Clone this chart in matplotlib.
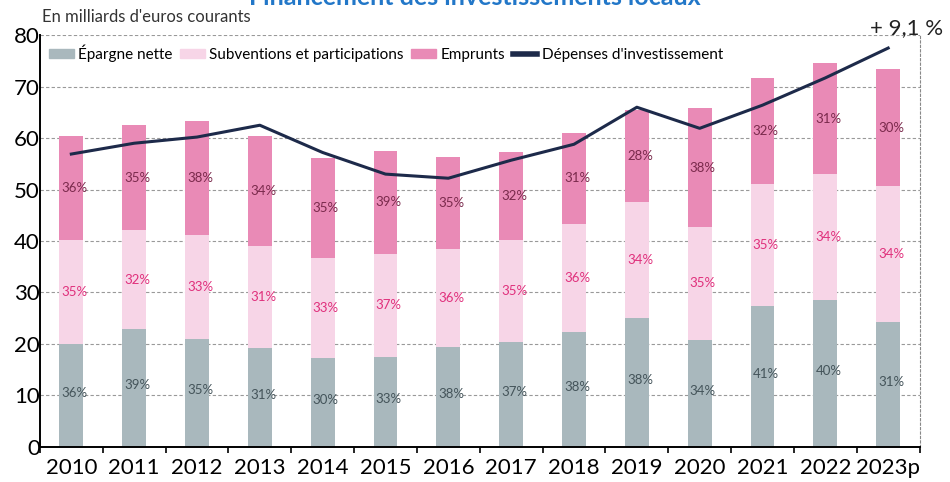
import numpy as np
import matplotlib
matplotlib.use("Agg")
import matplotlib.pyplot as plt
from matplotlib.lines import Line2D
from matplotlib.patches import Patch

plt.rcParams['font.family'] = ['Lato', 'DejaVu Sans']

# data (milliards d'euros)
years = ["2010", "2011", "2012", "2013", "2014", "2015", "2016",
         "2017", "2018", "2019", "2020", "2021", "2022", "2023p"]
epargne = [20.0, 22.9, 21.0, 19.2, 17.3, 17.5, 19.4, 20.4, 22.3, 25.0, 20.8, 27.4, 28.5, 24.3]
subv_top = [40.2, 42.1, 41.2, 39.0, 36.7, 37.5, 38.4, 40.2, 43.4, 47.6, 42.7, 51.1, 53.0, 50.7]
total = [60.4, 62.5, 63.3, 60.4, 56.1, 57.5, 56.3, 57.3, 61.0, 65.4, 65.8, 71.7, 74.6, 73.4]
depenses = [56.9, 59.0, 60.2, 62.5, 57.2, 53.0, 52.2, 55.7, 58.8, 66.0, 61.9, 66.4, 71.7, 77.5]

pct_epargne = [36, 39, 35, 31, 30, 33, 38, 37, 38, 38, 34, 41, 40, 31]
pct_subv = [35, 32, 33, 31, 33, 37, 36, 35, 36, 34, 35, 35, 34, 34]
pct_empr = [36, 35, 38, 34, 35, 39, 35, 32, 31, 28, 38, 32, 31, 30]

subventions = [t - e for t, e in zip(subv_top, epargne)]
emprunts = [t - s for t, s in zip(total, subv_top)]

c_grey = "#a9b8bd"
c_light = "#f7d5e7"
c_pink = "#e98ab6"
c_line = "#1d2a4a"

fig = plt.figure(figsize=(9.5, 4.82), dpi=100)
ax = fig.add_axes([0.042, 0.073, 0.926, 0.854])

x = np.arange(len(years))
w = 0.38
ax.bar(x, epargne, w, color=c_grey, zorder=2)
ax.bar(x, subventions, w, bottom=epargne, color=c_light, zorder=2)
ax.bar(x, emprunts, w, bottom=subv_top, color=c_pink, zorder=2)
ax.plot(x, depenses, color=c_line, lw=2.2, zorder=4)

# percent labels in each segment
for i in range(len(years)):
    ax.text(x[i] + 0.05, epargne[i] / 2 + 0.5, f"{pct_epargne[i]}%", ha="center", va="center",
            fontsize=9.5, color="#44545a", zorder=5)
    ax.text(x[i] + 0.05, (epargne[i] + subv_top[i]) / 2, f"{pct_subv[i]}%", ha="center", va="center",
            fontsize=9.5, color="#e0307c", zorder=5)
    ax.text(x[i] + 0.05, (subv_top[i] + total[i]) / 2, f"{pct_empr[i]}%", ha="center", va="center",
            fontsize=9.5, color="#7a2a4c", zorder=5)

ax.text(x[-1] + 0.3, 79.5, "+ 9,1 %", ha="center", va="bottom", fontsize=16, color="#222222")

ax.set_xlim(-0.5, len(years) - 0.5)
ax.set_ylim(0, 80)
ax.set_xticks(x)
ax.set_xticklabels(years, fontsize=16)
ax.set_xticks(np.arange(-0.5, len(years), 1), minor=True)
ax.tick_params(axis="x", which="major", length=0, pad=8)
ax.tick_params(axis="x", which="minor", length=4, width=1.2, direction="out")
ax.set_yticks(np.arange(0, 81, 10))
ax.set_yticklabels([str(v) for v in range(0, 81, 10)], fontsize=16)
ax.tick_params(axis="y", length=0, pad=0)
ax.yaxis.grid(True, ls=(0, (3, 2)), color="#999999", lw=0.8, zorder=0)

ax.spines["top"].set_visible(False)
ax.spines["right"].set_linestyle((0, (2, 2)))
ax.spines["right"].set_color("#888888")
ax.spines["left"].set_linewidth(1.4)
ax.spines["bottom"].set_linewidth(1.4)

handles = [Patch(color=c_grey), Patch(color=c_light), Patch(color=c_pink),
           Line2D([0], [0], color=c_line, lw=4)]
labels = ["Épargne nette", "Subventions et participations", "Emprunts", "Dépenses d'investissement"]
ax.legend(handles, labels, loc="upper left", bbox_to_anchor=(0.0, 1.0), ncol=4, frameon=False,
          fontsize=11, handlelength=1.6, handleheight=0.5, handletextpad=0.3, columnspacing=0.5,
          borderaxespad=0.2)

fig.text(0.044, 0.965, "En milliards d'euros courants", fontsize=12, color="#333333", va="center")
fig.text(0.5, 1.005, "Financement des investissements locaux", fontsize=18, fontweight="bold",
         color="#2277c8", ha="center", va="center")

fig.savefig("out.png", dpi=100)
